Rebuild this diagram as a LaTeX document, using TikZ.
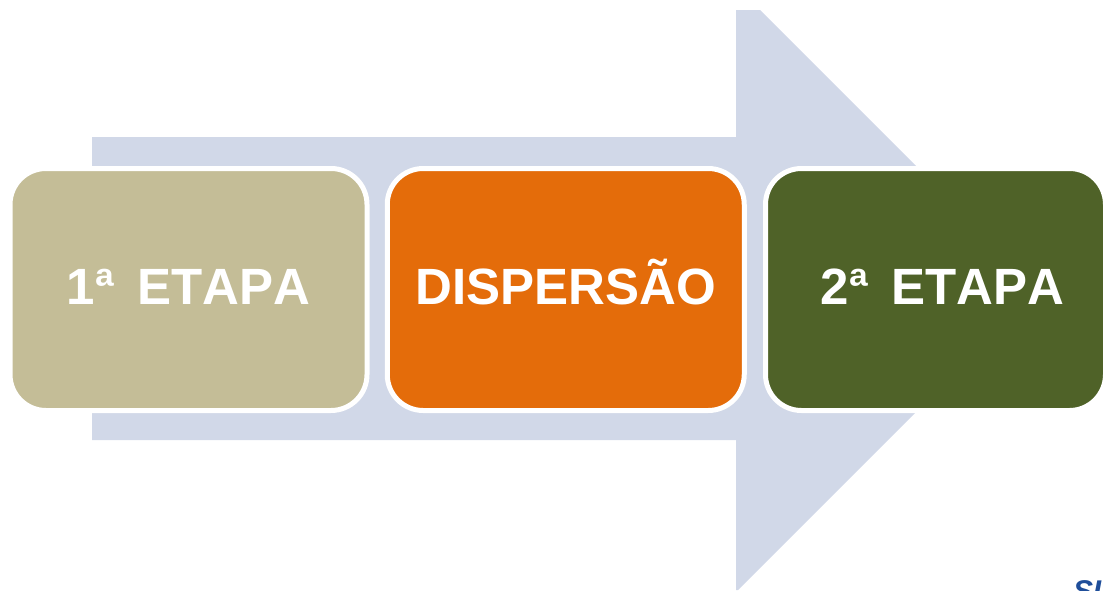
\documentclass[tikz,border=0pt]{standalone}
\usepackage{fontspec}
\setmainfont{Liberation Sans}[Kerning=Off]
\usetikzlibrary{positioning}
\definecolor{arrowblue}{HTML}{D1D8E8}
\definecolor{etapatan}{HTML}{C4BD97}
\definecolor{etapaorange}{HTML}{E46C0A}
\definecolor{etapagreen}{HTML}{4F6228}
\definecolor{logoblue}{HTML}{1F4E9A}
\tikzset{
    etapa/.style={draw=white, line width=5pt, rounded corners=36pt,
        minimum width=357pt, minimum height=242pt, inner sep=0pt,
        text height=29pt, text depth=0pt,
        text=white, font=\fontsize{51}{60}\selectfont\bfseries}
}

\begin{document}
\begin{tikzpicture}[x=1pt, y=-1pt]
                        \useasboundingbox (0, 0) rectangle (1106, 590);
                        \begin{scope}
                        \clip (0, 0) rectangle (1106, 590);
                        % big arrow behind the boxes
                        \fill[arrowblue] (92, 137) -- (736, 137) -- (736, 10) -- (760, 10)
                            -- (1039, 289) -- (738, 590) -- (736, 590) -- (736, 440)
                            -- (92, 440) -- cycle;

                        \node[etapa, fill=etapatan] (e1) at (188.5, 289.5) {1ª\hspace{9pt} ETAPA};
                        \node[etapa, fill=etapaorange] (disp) at (565.75, 289.5) {DISPERSÃO};
                        \node[etapa, fill=etapagreen, minimum width=340pt] (e2) at (935.5, 289.5) {\hspace{14pt}2ª\hspace{9pt} ETAPA};

                        \node[anchor=north west, inner sep=0pt, text=logoblue,
                            font=\fontsize{30}{36}\selectfont\bfseries\itshape] (logo) at (1073, 580) {SU};
                        \end{scope}
                    \end{tikzpicture}
\end{document}
